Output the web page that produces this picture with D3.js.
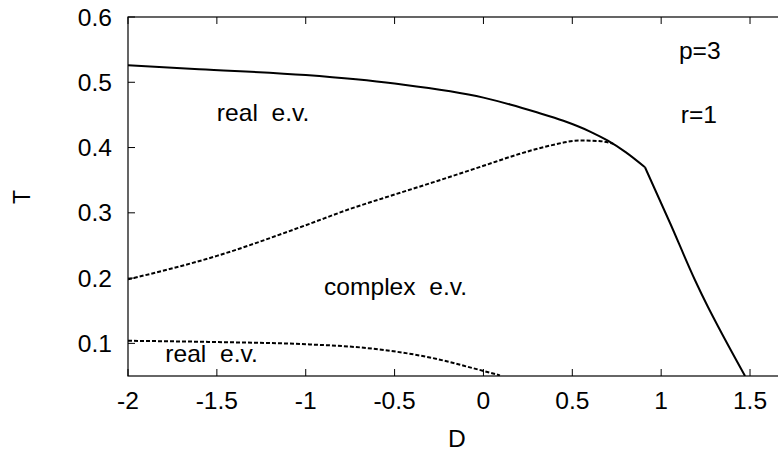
<!DOCTYPE html>
<html>
<head>
<meta charset="utf-8">
<script src="https://cdn.jsdelivr.net/npm/d3@7"></script>
<style>
  html, body { margin: 0; padding: 0; background: #fff; }
  svg { display: block; }
  text { font-family: "Liberation Sans", Arial, sans-serif; fill: #000; white-space: pre; }
</style>
</head>
<body>
<svg id="chart" width="778" height="451"></svg>
<script>
// ---- data ----
const xTicks = [-2, -1.5, -1, -0.5, 0, 0.5, 1, 1.5];
const yTicks = [0.1, 0.2, 0.3, 0.4, 0.5, 0.6];

// solid boundary: upper branch (to kink) and steep branch
const solidUpperD = [-2, -1.6, -1, -0.5, 0, 0.15, 0.3, 0.45, 0.6, 0.7, 0.8, 0.909];
const solidUpperT = [0.526, 0.520, 0.511, 0.498, 0.4765, 0.466, 0.454, 0.441, 0.4245, 0.4105, 0.393, 0.3698];
const solidSteepD = [0.909, 1.05, 1.19, 1.26, 1.331, 1.472];
const solidSteepT = [0.3698, 0.2844, 0.1971, 0.1576, 0.1205, 0.05];

// dashed boundaries
const dashUpperD = [-2, -1.5, -1, -0.75, -0.5, -0.28, 0, 0.2, 0.375, 0.544, 0.65, 0.73];
const dashUpperT = [0.198, 0.234, 0.281, 0.306, 0.328, 0.347, 0.372, 0.390, 0.403, 0.4108, 0.410, 0.406];
const dashLowerD = [-2, -1.5, -1.032, -0.621, -0.284, -0.059, 0.093];
const dashLowerT = [0.104, 0.102, 0.099, 0.0918, 0.0774, 0.062, 0.051];

const labels = [
  { text: "real  e.v.", D: -1.5, T: 0.4405 },
  { text: "complex  e.v.", D: -0.897, T: 0.1745 },
  { text: "real  e.v.", D: -1.79, T: 0.071 },
  { text: "p=3", D: 1.10, T: 0.535 },
  { text: "r=1", D: 1.11, T: 0.438 }
];

// ---- layout ----
const svg = d3.select("#chart");
const pL = 128, pT = 17, pB = 376;
const x = d3.scaleLinear().domain([-2, 1.7]).range([pL, pL + 3.7 * 177.72]);
const y = d3.scaleLinear().domain([0.05, 0.6]).range([pB, pT]);
const pR = x(1.7);
const fs = 23;
const sx = 1.07;

function txt(px, py, s, anchor) {
  return svg.append("text")
    .attr("transform", `translate(${px},${py}) scale(${sx},1)`)
    .attr("text-anchor", anchor || "start")
    .attr("font-size", fs).text(s);
}

svg.append("defs").append("clipPath").attr("id", "clip")
  .append("rect").attr("x", pL).attr("y", pT).attr("width", pR - pL).attr("height", pB - pT);

// frame
svg.append("rect").attr("x", pL).attr("y", pT).attr("width", pR - pL).attr("height", pB - pT)
  .attr("fill", "none").attr("stroke", "#000").attr("stroke-width", 1.2);

// x ticks (bottom and mirrored top)
const tickLen = 7;
xTicks.forEach(v => {
  svg.append("line").attr("x1", x(v)).attr("x2", x(v)).attr("y1", pB).attr("y2", pB - tickLen)
    .attr("stroke", "#000").attr("stroke-width", 1);
  svg.append("line").attr("x1", x(v)).attr("x2", x(v)).attr("y1", pT).attr("y2", pT + tickLen)
    .attr("stroke", "#000").attr("stroke-width", 1);
  txt(x(v), 409, String(v), "middle");
});
// y ticks
yTicks.forEach(v => {
  svg.append("line").attr("x1", pL).attr("x2", pL + tickLen).attr("y1", y(v)).attr("y2", y(v))
    .attr("stroke", "#000").attr("stroke-width", 1);
  txt(112, y(v) + 8.5, d3.format(".1f")(v), "end");
});

// axis titles
txt(457, 447, "D", "middle");
svg.append("text").attr("transform", "translate(30,197) rotate(-90)").attr("text-anchor", "middle")
  .attr("font-size", fs).text("T");

// curves
const g = svg.append("g").attr("clip-path", "url(#clip)");
const line = d3.line().x(d => x(d[0])).y(d => y(d[1])).curve(d3.curveMonotoneX);
const zip = (a, b) => a.map((v, i) => [v, b[i]]);

g.append("path").datum(zip(solidUpperD, solidUpperT)).attr("d", line)
  .attr("fill", "none").attr("stroke", "#000").attr("stroke-width", 2);
g.append("path").datum(zip(solidSteepD, solidSteepT)).attr("d", line)
  .attr("fill", "none").attr("stroke", "#000").attr("stroke-width", 2);
g.append("path").datum(zip(dashUpperD, dashUpperT)).attr("d", line)
  .attr("fill", "none").attr("stroke", "#000").attr("stroke-width", 2).attr("stroke-dasharray", "4,2");
g.append("path").datum(zip(dashLowerD, dashLowerT)).attr("d", line)
  .attr("fill", "none").attr("stroke", "#000").attr("stroke-width", 2).attr("stroke-dasharray", "4,2");

// region labels
labels.forEach(l => txt(x(l.D), y(l.T), l.text));
</script>
</body>
</html>
